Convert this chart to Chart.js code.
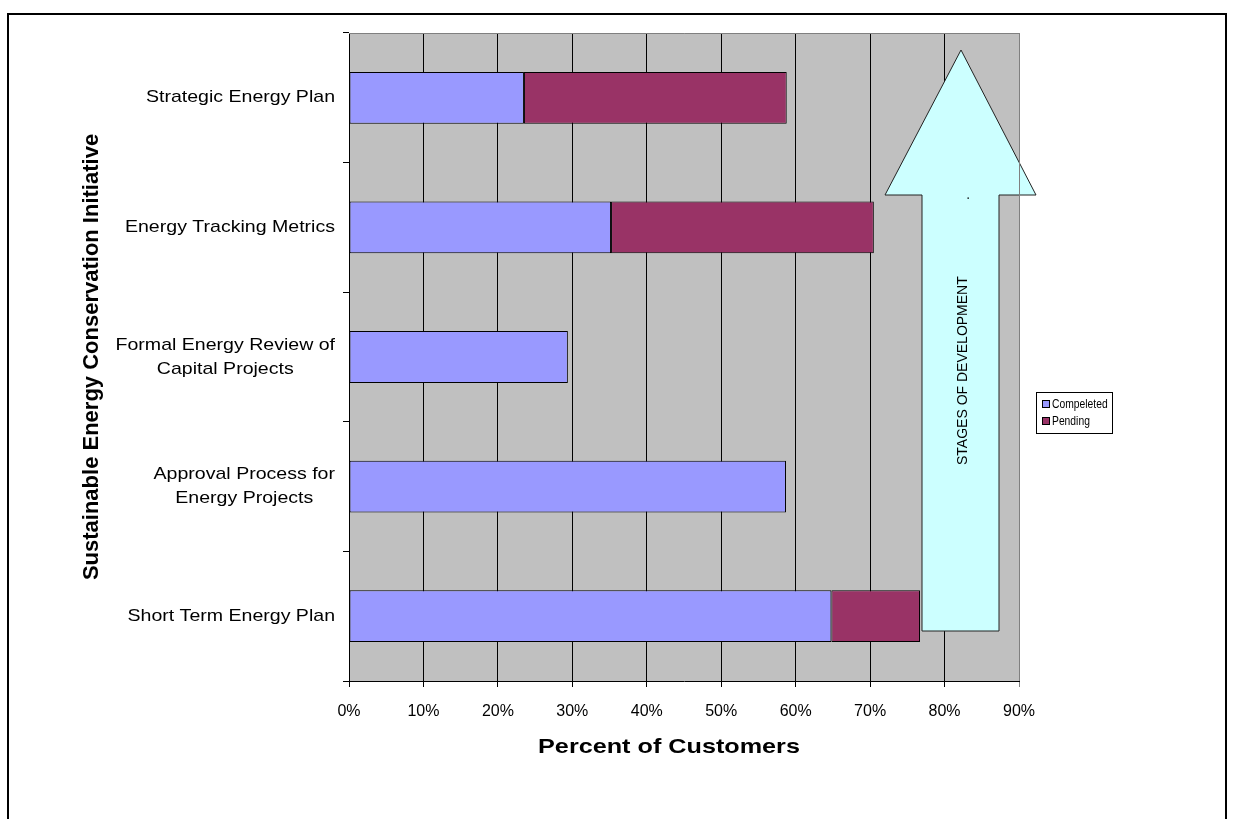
<!DOCTYPE html>
<html><head><meta charset="utf-8">
<script src="https://cdn.jsdelivr.net/npm/chart.js@4.4.1/dist/chart.umd.min.js"></script>
<style>html,body{margin:0;padding:0;background:#fff;overflow:hidden}#wrap{width:1233px;height:819px;position:relative}</style>
</head><body><div id="wrap"><canvas id="c" width="1233" height="819"></canvas></div>
<script>
const categories = [["Strategic Energy Plan"],["Energy Tracking Metrics"],["Formal Energy Review of","Capital Projects"],["Approval Process for","Energy Projects"],["Short Term Energy Plan"]];
const completed = [23.5, 35.2, 29.4, 58.7, 64.8];
const pending = [35.3, 35.3, 0, 0, 11.9];
const seriesNames = ["Compeleted", "Pending"];
const seriesColors = ["#9999FF", "#993366"];
const xTickValues = [0, 10, 20, 30, 40, 50, 60, 70, 80, 90];
const xTitle = "Percent of Customers";
const yTitle = "Sustainable Energy Conservation Initiative";
const arrowText = "STAGES OF DEVELOPMENT";

const FONT = "'Liberation Sans', Arial, sans-serif";

const decor = {
  id: 'decor',
  beforeDraw(chart) {
    const ctx = chart.ctx, a = chart.chartArea;
    ctx.save();
    ctx.fillStyle = '#fff';
    ctx.fillRect(0, 0, chart.width, chart.height);
    ctx.fillStyle = '#C0C0C0';
    ctx.fillRect(a.left, a.top, a.right - a.left, a.bottom - a.top);
    ctx.strokeStyle = '#000';
    ctx.lineWidth = 2;
    ctx.strokeRect(8, 14, 1218, 830);
    ctx.restore();
  },
  afterDatasetsDraw(chart) {
    const ctx = chart.ctx;
    ctx.save();
    ctx.beginPath();
    ctx.moveTo(961, 50);
    ctx.lineTo(1036, 195);
    ctx.lineTo(999, 195);
    ctx.lineTo(999, 631);
    ctx.lineTo(922, 631);
    ctx.lineTo(922, 195);
    ctx.lineTo(885, 195);
    ctx.closePath();
    ctx.fillStyle = '#CCFFFF';
    ctx.fill();
    ctx.strokeStyle = '#222';
    ctx.lineWidth = 1;
    ctx.stroke();
    ctx.translate(963, 0);
    ctx.rotate(-Math.PI / 2);
    ctx.fillStyle = '#000';
    ctx.font = '14px ' + FONT;
    ctx.textAlign = 'left';
    ctx.textBaseline = 'middle';
    ctx.fillText(arrowText, -465, 0);
    ctx.textBaseline = 'alphabetic';
    ctx.fillText('.', -200, 6);
    ctx.restore();
  },
  afterDraw(chart) {
    const ctx = chart.ctx, a = chart.chartArea;
    ctx.save();
    ctx.strokeStyle = '#808080';
    ctx.lineWidth = 1;
    ctx.beginPath();
    ctx.moveTo(a.left, a.top + 0.5);
    ctx.lineTo(a.right + 0.5, a.top + 0.5);
    ctx.lineTo(a.right + 0.5, a.bottom);
    ctx.stroke();
    // category labels: block right-aligned, lines centered within block
    const ys = chart.scales.y;
    ctx.fillStyle = '#000';
    ctx.font = '17px ' + FONT;
    ctx.textAlign = 'center';
    ctx.textBaseline = 'middle';
    const sx = 1.15, lh = 24;
    categories.forEach((lines, i) => {
      const yc = ys.getPixelForValue(i);
      const w = Math.max(...lines.map(l => ctx.measureText(l).width)) * sx;
      const cx = 335 - w / 2;
      lines.forEach((l, j) => {
        ctx.save();
        ctx.translate(cx, yc + (j - (lines.length - 1) / 2) * lh);
        ctx.scale(sx, 1);
        ctx.fillText(l, 0, 0);
        ctx.restore();
      });
    });
    // x title
    ctx.save();
    ctx.font = 'bold 21px ' + FONT;
    ctx.translate(669, 747);
    ctx.scale(1.2, 1);
    ctx.fillText(xTitle, 0, 0);
    ctx.restore();
    // legend
    const lx = 1036, ly = 392, lw = 76, lhh = 41;
    ctx.fillStyle = '#fff';
    ctx.fillRect(lx, ly, lw, lhh);
    ctx.strokeStyle = '#000';
    ctx.lineWidth = 1;
    ctx.strokeRect(lx + 0.5, ly + 0.5, lw, lhh);
    ctx.font = '12px ' + FONT;
    ctx.textAlign = 'left';
    chart.data.datasets.forEach((ds, i) => {
      const yy = ly + 12 + i * 17;
      ctx.fillStyle = ds.backgroundColor;
      ctx.fillRect(lx + 6, yy - 4, 8, 8);
      ctx.strokeStyle = '#000';
      ctx.strokeRect(lx + 6.5, yy - 3.5, 7, 7);
      ctx.fillStyle = '#000';
      ctx.save();
      ctx.translate(lx + 16, yy + 1);
      ctx.scale(0.86, 1);
      ctx.fillText(ds.label, 0, 0);
      ctx.restore();
    });
    ctx.restore();
  }
};

new Chart(document.getElementById('c'), {
  type: 'bar',
  data: {
    labels: categories,
    datasets: [
      { label: seriesNames[0], data: completed, backgroundColor: seriesColors[0], borderColor: '#000', borderWidth: 1, borderSkipped: false },
      { label: seriesNames[1], data: pending, backgroundColor: seriesColors[1], borderColor: '#000', borderWidth: 1, borderSkipped: false }
    ]
  },
  options: {
    indexAxis: 'y',
    responsive: false,
    animation: false,
    devicePixelRatio: 1,
    layout: { padding: { top: 33, right: 214, bottom: 60, left: 0 } },
    datasets: { bar: { barPercentage: 0.4, categoryPercentage: 1.0 } },
    plugins: { legend: { display: false }, tooltip: { enabled: false } },
    scales: {
      x: {
        type: 'linear', stacked: true, min: 0, max: 90,
        afterFit(s) { s.height = 78; },
        afterBuildTicks(s) { s.ticks = xTickValues.map(v => ({ value: v })); },
        ticks: { callback: v => v + '%', color: '#000', font: { size: 16, family: FONT }, padding: 15, maxRotation: 0 },
        grid: { color: c => (c.tick && c.tick.value === 90) ? '#808080' : '#000', lineWidth: 1, tickLength: 6, drawOnChartArea: true },
        border: { color: '#000', width: 1 },
        title: { display: false, text: xTitle }
      },
      y: {
        type: 'category', stacked: true, offset: true,
        afterFit(s) { s.width = 349; },
        ticks: { callback: () => '', padding: 0 },
        grid: { offset: true, drawOnChartArea: false, drawTicks: true, tickLength: 6, color: '#000' },
        border: { color: '#000', width: 1 },
        title: { display: true, text: yTitle, color: '#000', font: { size: 22, weight: 'bold', family: FONT }, padding: { top: 79, bottom: 0 } }
      }
    }
  },
  plugins: [decor]
});
</script></body></html>
